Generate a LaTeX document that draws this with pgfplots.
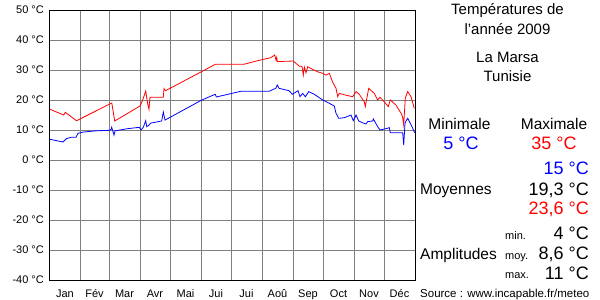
\documentclass[border=0pt]{standalone}
\usepackage{fontspec}
\setmainfont{Liberation Sans}
\usepackage{pgfplots}
\pgfplotsset{compat=1.18}
\newcommand\fT{\fontsize{15}{18}\selectfont}
\newcommand\fL{\fontsize{15.5}{18}\selectfont}
\newcommand\fV{\fontsize{18}{21}\selectfont}
\newcommand\fS{\fontsize{11.5}{13}\selectfont}
\newcommand\fs{\fontsize{11}{13}\selectfont}
\begin{document}
\begin{tikzpicture}[x=1pt,y=1pt]
\useasboundingbox (0,0) rectangle (600,300);
\begin{axis}[
  at={(50pt,20pt)}, anchor=south west,
  scale only axis, width=365pt, height=270pt,
  xmin=0, xmax=365, ymin=-40, ymax=50,
  xtick={31,59,90,120,151,181,212,243,273,304,334},
  xticklabels={},
  extra x ticks={15,44.5,74.5,105,135.5,166,196.5,227.5,258,288.5,319,349.5},
  extra x tick labels={Jan,Fév,Mar,Avr,Mai,Jui,Jui,Aoû,Sep,Oct,Nov,Déc},
  extra x tick style={grid=none},
  xticklabel style={font=\fontsize{11}{13}\selectfont, anchor=base, inner sep=0pt, yshift=-17.5pt},
  ytick={-40,-30,...,50},
  yticklabels={-40 °C,-30 °C,-20 °C,-10 °C,0 °C,10 °C,20 °C,30 °C,40 °C,50 °C},
  yticklabel style={font=\fontsize{11}{13}\selectfont, anchor=east, inner sep=0pt, xshift=-6pt},
  major tick length=0pt, minor tick length=0pt,
  grid=major,
  major grid style={gray, line width=1pt},
  axis line style={black, line width=1pt},
]
\addplot[red, line width=0.8pt] coordinates {
(0,16.9)(13.7,15.0)(15.3,15.9)(26.5,13.1)(61.8,19.0)(64.7,13.0)(90,18.0)(92.7,20.0)(95.7,23.0)(97.7,18.7)(99,16.9)(100,20.9)(113.3,20.9)(114,23.8)(115.5,23.1)(151.3,29.4)(165.3,31.9)(194,31.9)(204,32.8)(214,33.6)(220.7,34.1)(224.7,35.0)(226,33.3)(226.7,34.2)(227.3,32.8)(243.3,33.0)(246,32.2)(249.3,31.3)(252,31.2)(253.3,28.3)(254.3,31.0)(256,29.1)(257.7,31.1)(261,30.5)(267.7,29.4)(272.7,28.9)(276,28.3)(279.3,28.9)(282.7,25.9)(286,23.9)(287.7,21.1)(289.3,22.2)(296,21.6)(302.7,21.1)(306,22.8)(309.3,21.9)(314.3,19.4)(315.3,17.8)(318.7,23.9)(324.3,22.2)(327.7,20.0)(330,20.9)(334.3,19.4)(338.3,17.8)(340.3,20.0)(346,18.3)(351,15.6)(352.5,14.5)(353.7,11.7)(355.3,20.6)(357.7,22.8)(361,21.1)(364.3,17.2)
};
\addplot[blue, line width=0.8pt] coordinates {
(0,6.9)(13,6.0)(16.3,7.1)(21.3,7.6)(26,7.6)(28,8.9)(33,9.3)(44.7,9.7)(59.7,9.9)(61.3,10.3)(61.7,10.9)(64,8.3)(65,9.7)(76.7,10.4)(89.3,10.9)(91,10.0)(93.3,10.9)(95.7,13.1)(96.7,11.1)(99.3,11.7)(100.7,12.3)(111.7,13.0)(113.3,16.0)(115,13.3)(151.3,19.9)(163.7,21.7)(165.3,21.9)(166.3,21.0)(175.3,21.7)(190.7,22.9)(219,22.9)(225.7,23.9)(227.3,25.0)(229,23.9)(239,23.1)(242.3,21.9)(248,23.1)(250,21.1)(252.7,22.2)(255.3,21.1)(258.7,22.8)(264.3,21.9)(272.7,20.0)(279.3,18.9)(284.3,18.0)(286,15.6)(288.7,13.9)(294.3,14.1)(301,15.0)(303.3,13.1)(305.3,14.4)(306,15.0)(308.7,13.0)(312.7,12.4)(316,12.0)(317.7,12.8)(322.7,13.0)(323.3,13.7)(327.7,11.1)(330,10.0)(337.7,10.6)(339.3,10.8)(340.3,9.1)(352.7,9.1)(353.7,5.0)(355,12.2)(356,13.0)(357.7,13.9)(362,11.1)(364.7,9.1)
};
\end{axis}
\node[anchor=base, inner sep=0pt] at (507.5,285) {\fT Températures de};
\node[anchor=base, inner sep=0pt] at (507.5,265) {\fT l'année 2009};
\node[anchor=base, inner sep=0pt] at (507.5,237.7) {\fT La Marsa};
\node[anchor=base, inner sep=0pt] at (507.5,218.3) {\fT Tunisie};
\node[anchor=base, inner sep=0pt] at (459.5,170) {\fL Minimale};
\node[anchor=base, inner sep=0pt] at (554,170) {\fL Maximale};
\node[anchor=base, inner sep=0pt, text=blue] at (461,150.7) {\fV 5 °C};
\node[anchor=base, inner sep=0pt, text=red] at (554,150.7) {\fV 35 °C};
\node[anchor=base east, inner sep=0pt, text=blue] at (589,125) {\fV 15 °C};
\node[anchor=base west, inner sep=0pt] at (420,105) {\fL Moyennes};
\node[anchor=base east, inner sep=0pt] at (589,104.3) {\fV 19,3 °C};
\node[anchor=base east, inner sep=0pt, text=red] at (589,85) {\fV 23,6 °C};
\node[anchor=base west, inner sep=0pt] at (505,60) {\fs min.};
\node[anchor=base east, inner sep=0pt] at (589,60.7) {\fV 4 °C};
\node[anchor=base west, inner sep=0pt] at (420,40) {\fL Amplitudes};
\node[anchor=base west, inner sep=0pt] at (505,40) {\fs moy.};
\node[anchor=base east, inner sep=0pt] at (589,40) {\fV 8,6 °C};
\node[anchor=base west, inner sep=0pt] at (505,21) {\fs max.};
\node[anchor=base east, inner sep=0pt] at (589,20.7) {\fV 11 °C};
\node[anchor=base west, inner sep=0pt] at (420,2.5) {\fS Source : www.incapable.fr/meteo};
\end{tikzpicture}
\end{document}
